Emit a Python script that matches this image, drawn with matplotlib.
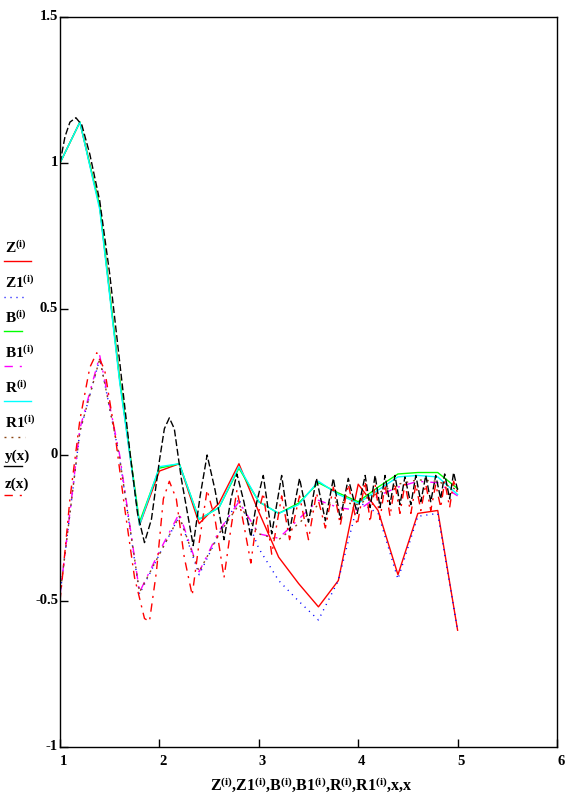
import matplotlib
matplotlib.use("Agg")
import matplotlib.pyplot as plt
from matplotlib.lines import Line2D

plt.rcParams['font.family'] = ['Liberation Serif', 'DejaVu Serif']
plt.rcParams['font.weight'] = 'bold'
plt.rcParams['mathtext.fontset'] = 'custom'
plt.rcParams['mathtext.rm'] = 'Liberation Serif:bold'
plt.rcParams['mathtext.it'] = 'Liberation Serif:bold'
plt.rcParams['mathtext.bf'] = 'Liberation Serif:bold'

# numeric solutions, step 0.2
x_i = [1.0, 1.2, 1.4, 1.6, 1.8, 2.0, 2.2, 2.4, 2.6, 2.8, 3.0,
       3.2, 3.4, 3.6, 3.8, 4.0, 4.2, 4.4, 4.6, 4.8, 5.0]
Z = [1.00, 1.14, 0.85, 0.26, -0.24, -0.055, -0.03, -0.235, -0.165, -0.03, -0.195,
     -0.35, -0.44, -0.52, -0.43, -0.10, -0.19, -0.41, -0.20, -0.19, -0.60]
Z1 = [-0.48, 0.08, 0.33, -0.01, -0.476, -0.34, -0.21, -0.41, -0.27, -0.15, -0.32,
      -0.43, -0.50, -0.565, -0.43, -0.16, -0.20, -0.425, -0.21, -0.20, -0.60]
B = [1.00, 1.14, 0.85, 0.26, -0.23, -0.045, -0.03, -0.22, -0.18, -0.045, -0.16,
     -0.20, -0.165, -0.095, -0.13, -0.16, -0.11, -0.065, -0.06, -0.06, -0.115]
B1 = [-0.48, 0.09, 0.34, 0.00, -0.47, -0.33, -0.20, -0.40, -0.26, -0.16, -0.27,
      -0.285, -0.22, -0.155, -0.18, -0.19, -0.14, -0.11, -0.09, -0.095, -0.14]
R = [1.00, 1.14, 0.84, 0.25, -0.24, -0.04, -0.03, -0.22, -0.18, -0.04, -0.16,
     -0.20, -0.17, -0.09, -0.135, -0.165, -0.12, -0.075, -0.07, -0.075, -0.135]
R1 = [-0.48, 0.08, 0.33, -0.01, -0.47, -0.34, -0.21, -0.40, -0.27, -0.17, -0.27,
      -0.29, -0.235, -0.17, -0.16, -0.17, -0.13, -0.10, -0.085, -0.09, -0.12]

# exact solutions
x_y = [1.00, 1.05, 1.10, 1.16, 1.22, 1.30, 1.40, 1.50, 1.60, 1.70, 1.78, 1.85, 1.92,
       2.00, 2.05, 2.10, 2.15, 2.22, 2.34, 2.41, 2.48, 2.56, 2.65, 2.72, 2.78, 2.85,
       2.92, 2.98, 3.045, 3.13, 3.23, 3.31, 3.41, 3.50, 3.58, 3.67, 3.75, 3.82, 3.90,
       3.99, 4.07, 4.12, 4.17, 4.22, 4.27, 4.32, 4.37, 4.42, 4.47, 4.53, 4.58, 4.63,
       4.68, 4.73, 4.78, 4.83, 4.87, 4.92, 4.96, 5.00]
y_x = [1.00, 1.09, 1.14, 1.155, 1.13, 1.03, 0.87, 0.62, 0.32, 0.02, -0.20, -0.30, -0.22,
       -0.02, 0.09, 0.127, 0.09, -0.08, -0.31, -0.14, 0.00, -0.12, -0.29, -0.15, -0.065, -0.16,
       -0.28, -0.16, -0.07, -0.27, -0.07, -0.26, -0.08, -0.23, -0.08, -0.225, -0.08, -0.22, -0.08,
       -0.20, -0.07, -0.18, -0.07, -0.18, -0.07, -0.17, -0.07, -0.17, -0.075, -0.17, -0.07, -0.16,
       -0.07, -0.16, -0.07, -0.15, -0.065, -0.15, -0.06, -0.12]
x_z = [1.00, 1.05, 1.10, 1.20, 1.30, 1.37, 1.45, 1.55, 1.65, 1.75, 1.85, 1.90, 1.97,
       2.04, 2.10, 2.17, 2.25, 2.33, 2.40, 2.48, 2.56, 2.65, 2.72, 2.78, 2.85, 2.92,
       2.98, 3.045, 3.13, 3.23, 3.31, 3.41, 3.50, 3.58, 3.67, 3.75, 3.82, 3.90, 3.99,
       4.07, 4.12, 4.17, 4.22, 4.27, 4.32, 4.37, 4.42, 4.47, 4.53, 4.58, 4.63, 4.68,
       4.73, 4.78, 4.83, 4.87, 4.92, 4.96, 5.00]
z_x = [-0.50, -0.33, -0.15, 0.12, 0.30, 0.35, 0.29, 0.08, -0.18, -0.42, -0.56, -0.57, -0.40,
       -0.15, -0.09, -0.15, -0.35, -0.48, -0.30, -0.12, -0.22, -0.42, -0.25, -0.12, -0.24, -0.37,
       -0.22, -0.13, -0.34, -0.14, -0.29, -0.14, -0.29, -0.13, -0.25, -0.11, -0.24, -0.10, -0.24,
       -0.09, -0.23, -0.10, -0.22, -0.10, -0.21, -0.10, -0.20, -0.10, -0.20, -0.10, -0.19, -0.10,
       -0.19, -0.10, -0.18, -0.09, -0.18, -0.09, -0.13]

x_ticks = [1, 2, 3, 4, 5, 6]
y_ticks = [-1, -0.5, 0, 0.5, 1, 1.5]
y_tick_labels = ["-1", "-0.5", "0", "0.5", "1", "1.5"]

brown = '#8B4513'
styles = [
    ("$\\mathrm{Z}^{(i)}$", 'red', '-', 27),
    ("$\\mathrm{Z1}^{(i)}$", 'blue', (0, (0.8, 3.5)), 21),
    ("$\\mathrm{B}^{(i)}$", '#00FF00', '-', 18),
    ("$\\mathrm{B1}^{(i)}$", 'magenta', (0, (6, 5, 1.5, 5)), 18),
    ("$\\mathrm{R}^{(i)}$", 'cyan', '-', 27),
    ("$\\mathrm{R1}^{(i)}$", brown, (0, (1.4, 3.6)), 21),
    ("y(x)", 'black', '-', 18),
    ("z(x)", 'red', (0, (6, 5, 1.5, 5)), 18),
]

W, H = 569, 798
fig = plt.figure(figsize=(W / 100, H / 100), dpi=100)
left, right, top, bottom = 60, 557, 17, 747
ax = fig.add_axes([left / W, 1 - bottom / H, (right - left) / W, (bottom - top) / H])

lw = 1.0
ax.plot(x_i, Z, color='red', lw=lw)
ax.plot(x_i, Z1, color='blue', lw=lw, linestyle=(0, (0.8, 3.5)))
ax.plot(x_i, B, color='#00FF00', lw=lw)
ax.plot(x_i, B1, color='magenta', lw=lw, linestyle=(0, (6, 5, 1.5, 5)))
ax.plot(x_i, R, color='cyan', lw=lw)
ax.plot(x_i, R1, color=brown, lw=lw, linestyle=(0, (1.4, 3.6)))
ax.plot(x_y, y_x, color='black', lw=lw, linestyle=(0, (5, 2)))
ax.plot(x_z, z_x, color='red', lw=lw, linestyle=(0, (6, 4, 1.5, 4)))

ax.set_xlim(1, 6)
ax.set_ylim(-1, 1.5)
ax.set_xticks(x_ticks)
ax.set_yticks(y_ticks)
ax.set_xticklabels([])
ax.set_yticklabels([])
ax.tick_params(direction='in', length=6, width=1, color='black')
for s in ax.spines.values():
    s.set_linewidth(1.0)

# tick labels, Mathcad style
for xt in x_ticks:
    ax.annotate(str(xt), (xt, -1), xytext=(0, -8), textcoords='offset pixels',
                ha='left', va='top', fontsize=10.5, fontweight='bold')
for yt, lab in zip(y_ticks, y_tick_labels):
    ax.annotate(lab, (1, yt), xytext=(-2, 0), textcoords='offset pixels',
                ha='right', va='center', fontsize=10.5, fontweight='bold')

fig.text(311 / W, 1 - 791 / H,
         "$\\mathrm{Z}^{(i)}\\mathrm{{,}Z1}^{(i)}\\mathrm{{,}B}^{(i)}\\mathrm{{,}B1}^{(i)}"
         "\\mathrm{{,}R}^{(i)}\\mathrm{{,}R1}^{(i)}\\mathrm{{,}x{,}x}$",
         ha='center', va='baseline', fontsize=11.5)

# legend on the left
text_base = [253, 288, 323, 358, 393, 428, 460, 488]
line_y = [261, 297, 331, 366, 401, 437, 466, 495]
for (lab, col, ls, length), tb, ly in zip(styles, text_base, line_y):
    fig.text(5 / W, 1 - tb / H, lab, ha='left', va='baseline', fontsize=11)
    fig.add_artist(Line2D([4 / W, (4 + length) / W], [1 - ly / H, 1 - ly / H],
                          color=col, lw=lw, linestyle=ls, transform=fig.transFigure))

plt.savefig("out.png", dpi=100)
